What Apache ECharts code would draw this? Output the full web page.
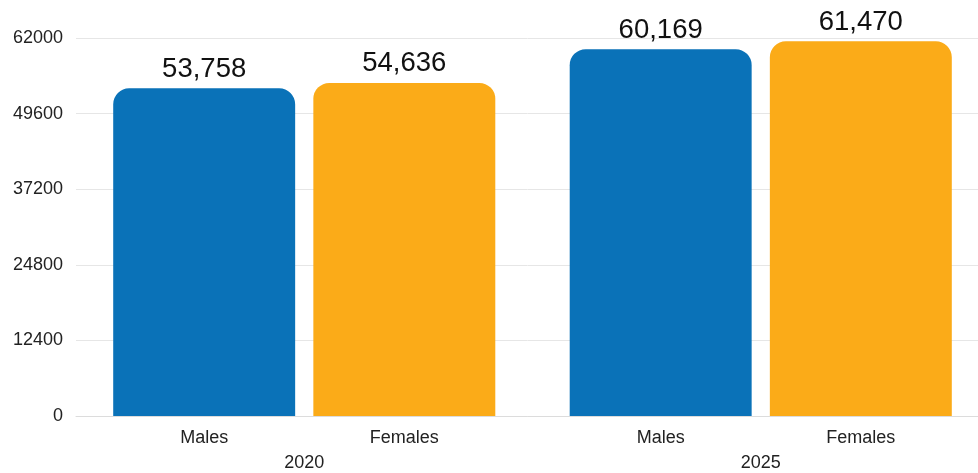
<!DOCTYPE html>
<html>
<head>
<meta charset="utf-8">
<script src="https://cdn.jsdelivr.net/npm/echarts@6/dist/echarts.min.js"></script>
<style>html,body{margin:0;padding:0;background:#fff}#c{width:978px;height:473px}</style>
</head>
<body>
<div id="c"></div>
<script>
const years = ['2020', '2025'];
const seriesNames = ['Males', 'Females'];
const males = [53758, 60169];
const females = [54636, 61470];
const yTicks = [0, 12400, 24800, 37200, 49600, 62000];

const chart = echarts.init(document.getElementById('c'), null, {renderer: 'canvas'});
const font = '"Liberation Sans", Arial, Helvetica, sans-serif';
const valueLabel = {
  show: true, position: 'top', distance: 5,
  fontFamily: font, fontSize: 27.5, color: '#111',
  formatter: p => p.value.toLocaleString('en-US')
};
chart.setOption({
  animation: false,
  grid: {left: 76, top: 38, bottom: 57, width: 913, containLabel: false, outerBoundsMode: 'none'},
  xAxis: {
    type: 'category', data: years,
    axisLine: {show: true, lineStyle: {color: '#dcdcdc'}},
    axisTick: {show: false},
    axisLabel: {
      margin: 10, interval: 0,
      fontFamily: font, color: '#222',
      formatter: v => `{a|${seriesNames[0]}}{b|${seriesNames[1]}}\n{y|${v}}`,
      rich: {
        a: {width: 200, align: 'center', fontSize: 18, lineHeight: 25, fontFamily: font, color: '#222'},
        b: {width: 200, align: 'center', fontSize: 18, lineHeight: 25, fontFamily: font, color: '#222'},
        y: {width: 400, align: 'center', fontSize: 18, lineHeight: 25, fontFamily: font, color: '#222'}
      }
    }
  },
  yAxis: {
    type: 'value', min: yTicks[0], max: yTicks[yTicks.length - 1], interval: yTicks[1] - yTicks[0],
    axisLine: {show: false}, axisTick: {show: false},
    splitLine: {lineStyle: {color: '#e6e6e6'}},
    axisLabel: {fontFamily: font, fontSize: 18, color: '#222', margin: 13, formatter: v => String(v)}
  },
  series: [
    {name: seriesNames[0], type: 'bar', data: males, barGap: '10%', barCategoryGap: '16.3%',
     itemStyle: {color: '#0a72b8', borderRadius: [16, 16, 0, 0]}, label: valueLabel},
    {name: seriesNames[1], type: 'bar', data: females,
     itemStyle: {color: '#fbab18', borderRadius: [16, 16, 0, 0]}, label: valueLabel}
  ]
});
</script>
</body>
</html>
